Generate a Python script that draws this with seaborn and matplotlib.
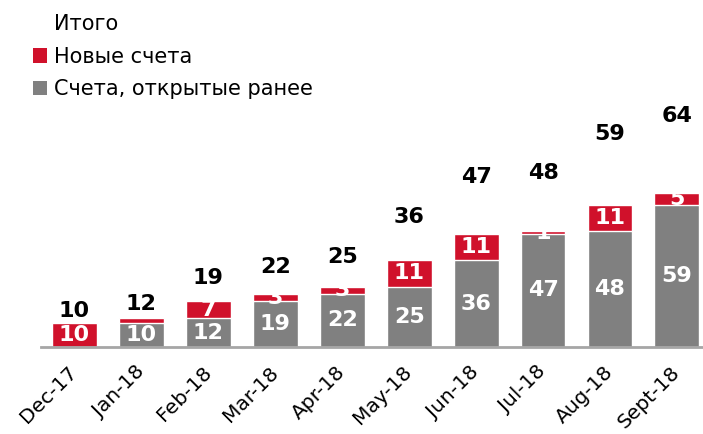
# ============================================================
# ACCOUNTS CHART: NEW vs PREVIOUSLY OPENED (STACKED BARS)
# ============================================================

import numpy as np
import pandas as pd

import matplotlib
matplotlib.use("Agg")
import matplotlib.pyplot as plt
from matplotlib.patches import Patch
from matplotlib.lines import Line2D
import seaborn as sns


# ============================================================
# DATA
# ============================================================

months = ["Dec-17", "Jan-18", "Feb-18", "Mar-18", "Apr-18",
          "May-18", "Jun-18", "Jul-18", "Aug-18", "Sept-18"]

prev_accounts = [0, 10, 12, 19, 22, 25, 36, 47, 48, 59]
new_accounts = [10, 2, 7, 3, 3, 11, 11, 1, 11, 5]

# labels shown inside the red segments (Jan-18 one is hidden in the original)
new_labels = ["10", "", "7", "3", "3", "11", "11", "1", "11", "5"]

legend_names = ["Итого", "Новые счета", "Счета, открытые ранее"]

df = pd.DataFrame({
    "month": months,
    "prev": prev_accounts,
    "new": new_accounts,
})
df["total"] = df["prev"] + df["new"]


# ============================================================
# STYLE
# ============================================================

RED = "#D0112B"
GREY = "#808080"
AXIS_GREY = "#A6A6A6"

sns.set_style("white")
plt.rcParams["font.family"] = ["DejaVu Sans"]
plt.rcParams["text.color"] = "black"
plt.rcParams["xtick.color"] = "black"


# ============================================================
# FIGURE
# ============================================================

fig = plt.figure(figsize=(7.03, 4.34), dpi=100)
ax = fig.add_axes([0.0583, 0.2005, 0.9417, 0.7995])

# red = totals, grey drawn on top -> stacked look
sns.barplot(data=df, x="month", y="total", color=RED,
            width=0.67, saturation=1, ax=ax)
sns.barplot(data=df, x="month", y="prev", color=GREY,
            width=0.67, saturation=1, ax=ax)

ax.set_xlim(-0.5, 9.39)
ax.set_ylim(0, 144)

# segment labels
for i, row in df.iterrows():
    if row["prev"] > 0:
        ax.text(i, row["prev"] / 2, str(row["prev"]),
                ha="center", va="center", color="white",
                fontsize=16, fontweight="bold")
    if new_labels[i]:
        ax.text(i, row["prev"] + row["new"] / 2, new_labels[i],
                ha="center", va="center", color="white",
                fontsize=16, fontweight="bold")

# totals above the bars
for i, row in df.iterrows():
    ax.text(i, row["total"] * 1.5, str(row["total"]),
            ha="center", va="center", color="black",
            fontsize=16, fontweight="bold")

# axes cosmetics
for side in ["top", "right", "left"]:
    ax.spines[side].set_visible(False)
ax.spines["bottom"].set_color(AXIS_GREY)
ax.spines["bottom"].set_linewidth(2)

ax.set_yticks([])
ax.set_xlabel("")
ax.set_ylabel("")
ax.tick_params(axis="x", length=0, pad=16, labelcolor="black")
plt.setp(ax.get_xticklabels(), rotation=45, ha="right", va="center",
         rotation_mode="anchor", fontsize=14.5)

# legend
handles = [
    Line2D([], [], linestyle="none"),
    Patch(facecolor=RED, edgecolor="none"),
    Patch(facecolor=GREY, edgecolor="none"),
]
fig.legend(handles, legend_names, loc="upper left",
           bbox_to_anchor=(0.02, 1.01), frameon=False,
           fontsize=15, handlelength=0.7, handleheight=0.7,
           handletextpad=0.3, labelspacing=0.6)

fig.savefig("out.png", dpi=100)
